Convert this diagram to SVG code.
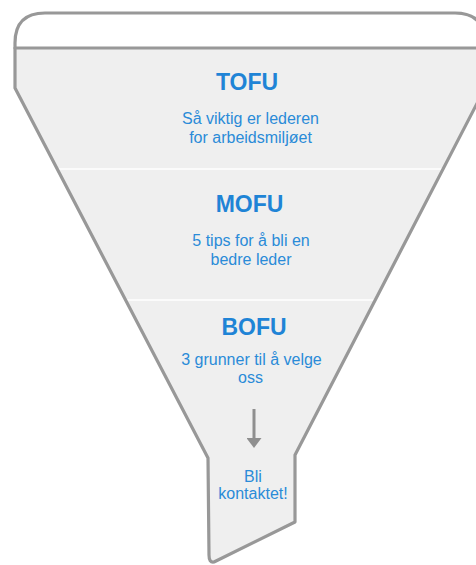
<svg xmlns="http://www.w3.org/2000/svg" width="476" height="565" viewBox="0 0 476 565">
  <defs>
    <style>
      .outline { fill: none; stroke: #989898; stroke-width: 3.2; stroke-linejoin: round; stroke-linecap: round; }
      .sep { stroke: #ffffff; stroke-width: 1.5; }
      .title { font-family: "Liberation Sans", Arial, Helvetica, sans-serif; font-weight: bold; font-size: 23px; fill: #1f84d6; text-anchor: middle; }
      .sub { font-family: "Liberation Sans", Arial, Helvetica, sans-serif; font-size: 16px; fill: #2a8bd8; text-anchor: middle; }
    </style>
    <marker id="arrowhead" viewBox="0 0 10 15" refX="0" refY="7.5" markerWidth="10" markerHeight="15" orient="auto" markerUnits="userSpaceOnUse">
      <path d="M0 0 L10 7.5 L0 15 Z" fill="#8f8f8f"/>
    </marker>
  </defs>
  <rect width="476" height="565" fill="#ffffff"/>

  <g id="funnel">
    <path d="M45 13 L455 13 Q485 13 485 43 L485 88 L295 455 L295 522 L214 562 Q209 563 209 555 L208 458 L15 88 L15 43 Q15 13 45 13 Z" fill="#efefef"/>
    <path d="M45 13 L455 13 Q485 13 485 43 L485 48 L15 48 L15 43 Q15 13 45 13 Z" fill="#ffffff"/>
    <line class="sep" x1="50" y1="169" x2="450" y2="169"/>
    <line class="sep" x1="115" y1="300" x2="385" y2="300"/>
    <line class="outline" x1="15" y1="48" x2="485" y2="48"/>
    <path class="outline" d="M45 13 L455 13 Q485 13 485 43 L485 88 L295 455 L295 522 L214 562 Q209 563 209 555 L208 458 L15 88 L15 43 Q15 13 45 13 Z"/>
  </g>

  <g id="tofu">
    <text class="title" x="247" y="90">TOFU</text>
    <text class="sub" x="250.5" y="124">Så viktig er lederen</text>
    <text class="sub" x="250.5" y="143">for arbeidsmiljøet</text>
  </g>

  <g id="mofu">
    <text class="title" x="249.5" y="212">MOFU</text>
    <text class="sub" x="251" y="246">5 tips for å bli en</text>
    <text class="sub" x="251" y="265">bedre leder</text>
  </g>

  <g id="bofu">
    <text class="title" x="254" y="335">BOFU</text>
    <text class="sub" x="251.5" y="365">3 grunner til å velge</text>
    <text class="sub" x="250.5" y="383">oss</text>
  </g>

  <g id="result">
    <text class="sub" x="253" y="482">Bli</text>
    <text class="sub" x="253" y="499">kontaktet!</text>
  </g>

  <g id="connectors">
    <line x1="254" y1="409" x2="254" y2="438" stroke="#8f8f8f" stroke-width="3" marker-end="url(#arrowhead)"/>
  </g>
</svg>
